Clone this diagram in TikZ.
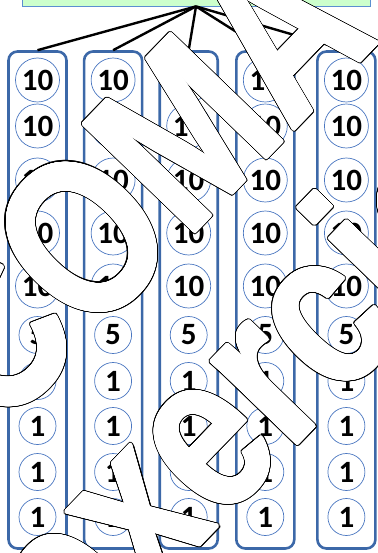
\documentclass[tikz,border=0pt]{standalone}
\usepackage{fontspec}
\usepackage{contour}
\usetikzlibrary{positioning}
\usepackage{xcolor}
\newfontfamily\coinfont{Carlito}
\newfontfamily\markfont{Liberation Sans}
\definecolor{stackblue}{HTML}{3C68A8}
\definecolor{coinblue}{HTML}{4A76C0}
\definecolor{goalgreen}{HTML}{CCFFCC}
\definecolor{goaledge}{HTML}{5B8FD0}
\contournumber{32}

\begin{document}
\begin{tikzpicture}[x=1pt, y=-1pt,
  stackbox/.style={draw=stackblue, line width=2.6pt, rounded corners=9pt, minimum width=58pt, minimum height=497pt, inner sep=0pt},
  coin/.style={draw=coinblue, line width=0.7pt, circle, inner sep=0pt, minimum size=37pt, font=\coinfont\bfseries\fontsize{31}{31}\selectfont},
  bigcoin/.style={coin, minimum size=44pt},
  link/.style={line width=2.4pt},
  wmark/.style={text=white, inner sep=0pt, transform shape, xscale=0.8, font=\markfont\bfseries\fontsize{225}{225}\selectfont}]
  \useasboundingbox (0,0) rectangle (377,553);
  \clip (0,0) rectangle (377,553);

  \node[draw=goaledge, fill=goalgreen, line width=0.8pt, minimum width=348pt, minimum height=20pt, inner sep=0pt] (goal) at (196,-4) {};

  \node[stackbox] (stack1) at (37.5,300) {};
  \node[stackbox, right=15pt of stack1] (stack2) {};
  \node[stackbox, right=15pt of stack2] (stack3) {};
  \node[stackbox, right=16pt of stack3] (stack4) {};
  \node[stackbox, right=20.5pt of stack4] (stack5) {};

  \draw[link] (goal.south) -- (stack1.north);
  \draw[link] (goal.south) -- (stack2.north);
  \draw[link] (goal.south) -- (stack3.north);
  \draw[link] (goal.south) -- (stack4.north);
  \draw[link] (goal.south) -- (stack5.north);

  % coins in every stack
  \foreach \s in {1,...,5}
    \foreach \y/\v/\st [count=\r] in {80/10/bigcoin, 126/10/bigcoin, 180/10/bigcoin, 233/10/bigcoin, 286/10/bigcoin,
                                      335/5/coin, 381/1/coin, 426/1/coin, 472/1/coin, 517/1/coin}
      \node[\st] (coin\s-\r) at (stack\s |- 0,\y) {\v};

  % watermark
  \begin{scope}[shift={(-1,435)}, rotate=46]
    \node[wmark, text=black, anchor=base west] (mark1a) at (0,0) {\contourlength{2.7pt}\contour{black}{COMA}};
    \node[wmark, anchor=base west] (mark1) at (0,0) {\contourlength{1.5pt}\contour{white}{COMA}};
  \end{scope}
  \begin{scope}[shift={(80,669)}, rotate=46]
    \node[wmark, text=black, anchor=base west] (mark2a) at (0,0) {\contourlength{2.7pt}\contour{black}{exercici}};
    \node[wmark, anchor=base west] (mark2) at (0,0) {\contourlength{1.5pt}\contour{white}{exercici}};
  \end{scope}
\end{tikzpicture}
\end{document}
